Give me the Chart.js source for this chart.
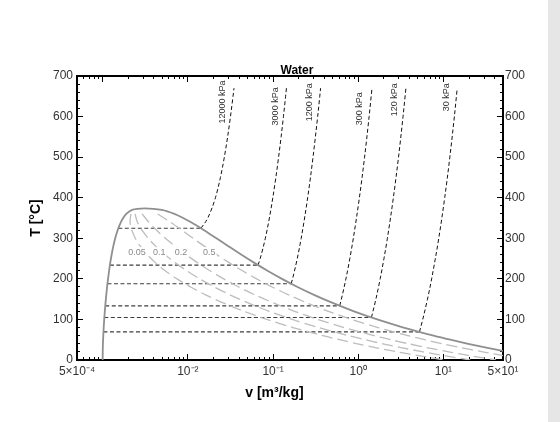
<!DOCTYPE html>
<html>
<head>
<meta charset="utf-8">
<script src="https://cdn.jsdelivr.net/npm/chart.js@4/dist/chart.umd.min.js"></script>
<style>
  html, body { margin: 0; padding: 0; }
  body { width: 560px; height: 422px; background: #e6e6e6; overflow: hidden; }
  .chart-box { width: 548px; height: 422px; background: #fff; }
</style>
</head>
<body>
<div class="chart-box"><canvas id="tv-chart" width="548" height="422"></canvas></div>
<script>
// saturation dome: liquid side going up, then vapour side coming down
const domeV = [0.001000, 0.001002, 0.001008, 0.001017, 0.001029, 0.001043, 0.001060, 0.001080, 0.001102,
  0.001127, 0.001157, 0.001190, 0.001229, 0.001276, 0.001332, 0.001404, 0.001499, 0.001638, 0.001741,
  0.001895, 0.002217, 0.003106,
  0.004953, 0.006950, 0.008806, 0.010797, 0.015488, 0.021659, 0.030150, 0.042175, 0.059707, 0.086094,
  0.12721, 0.19384, 0.30678, 0.50850, 0.89133, 1.6718, 3.4052, 7.6672, 12.026, 19.515, 32.879, 57.762]
const domeT = [0.01, 20, 40, 60, 80, 100, 120, 140, 160,
  180, 200, 220, 240, 260, 280, 300, 320, 340, 350,
  360, 370, 373.95,
  370, 360, 350, 340, 320, 300, 280, 260, 240, 220,
  200, 180, 160, 140, 120, 100, 80, 60, 50, 40, 30, 20]

// constant quality lines inside the dome
const qualityT = [360, 340, 320, 300, 280, 260, 240, 220, 200, 180, 160, 140, 120, 100, 80, 60, 50, 40, 30, 20, 15, 10, 0.01]
const quality005V = [0.002148, 0.002096, 0.002198, 0.002417, 0.002773, 0.003321, 0.004153, 0.005435, 0.007460,
  0.010763, 0.016386, 0.026451, 0.045574, 0.084581, 0.171238, 0.38433, 0.6023, 0.9767, 1.6449, 2.8891, 3.8952, 5.317, 10.301]
const quality01V = [0.002401, 0.002554, 0.002898, 0.003430, 0.004214, 0.005366, 0.007077, 0.009680, 0.013762,
  0.020398, 0.031670, 0.051822, 0.090087, 0.168119, 0.341446, 0.76764, 1.2035, 1.9524, 3.2888, 5.7771, 7.7894, 10.633, 20.601]
const quality02V = [0.002906, 0.003470, 0.004297, 0.005455, 0.007096, 0.009456, 0.012925, 0.018171, 0.026368,
  0.039670, 0.062238, 0.102564, 0.179114, 0.335195, 0.681863, 1.53426, 2.4060, 3.9038, 6.5766, 11.5532, 15.578, 21.265, 41.201]
const quality05V = [0.004423, 0.006218, 0.008494, 0.011532, 0.015741, 0.021726, 0.030468, 0.043642, 0.064184,
  0.097484, 0.153941, 0.25479, 0.44620, 0.83642, 1.70312, 3.8341, 6.0135, 9.7615, 16.440, 28.882, 38.943, 53.16, 103.0]
const qualityLabels = ['0.05', '0.1', '0.2', '0.5']
const qualityLabelV = [0.00253, 0.00462, 0.00831, 0.01785]
const qualityLabelT = 266

// isobars: two-phase part (horizontal) and superheated part
const pressureLabels = ['12000 kPa', '3000 kPa', '1200 kPa', '300 kPa', '120 kPa', '30 kPa']
const saturationT = [324.68, 233.85, 187.96, 133.52, 104.78, 69.09]
const saturationVf = [0.001527, 0.001217, 0.001139, 0.001073, 0.001047, 0.001022]
const saturationVg = [0.014264, 0.066664, 0.16326, 0.60582, 1.4284, 5.2287]

const sh12000T = [324.68, 350, 400, 450, 500, 550, 600, 650, 670]
const sh12000V = [0.014264, 0.01713, 0.02108, 0.02413, 0.02681, 0.02930, 0.03164, 0.03391, 0.0348]
const sh3000T = [233.85, 250, 300, 350, 400, 450, 500, 550, 600, 650, 670]
const sh3000V = [0.066664, 0.070627, 0.08117, 0.090553, 0.099377, 0.10787, 0.11619, 0.12437, 0.13244, 0.14044, 0.1436]
const sh1200T = [187.96, 200, 250, 300, 350, 400, 450, 500, 600, 650, 670]
const sh1200V = [0.16326, 0.16934, 0.19241, 0.21386, 0.23455, 0.25482, 0.27481, 0.29464, 0.33395, 0.35350, 0.3613]
const sh300T = [133.52, 150, 200, 250, 300, 400, 500, 600, 670]
const sh300V = [0.60582, 0.63402, 0.71643, 0.79645, 0.87535, 1.03151, 1.18669, 1.34136, 1.4500]
const sh120T = [104.78, 150, 200, 250, 300, 400, 500, 600, 670]
const sh120V = [1.4284, 1.6111, 1.8086, 2.0034, 2.1976, 2.5835, 2.9695, 3.3549, 3.625]
const sh30T = [69.09, 100, 150, 200, 300, 400, 500, 600, 670]
const sh30V = [5.2287, 5.715, 6.496, 7.268, 8.810, 10.350, 11.890, 13.432, 14.509]

// where the rotated pressure labels end (top of the text)
const pressureLabelV = [0.0257, 0.1062, 0.2666, 1.0425, 2.685, 10.81]
const pressureLabelT = [689, 672, 682, 660, 682, 682]

// axis ticks
const xLabelValues = [0.0005, 0.01, 0.1, 1, 10, 50]
const xLabelTexts = ['5×10⁻⁴', '10⁻²', '10⁻¹', '10⁰', '10¹', '5×10¹']
const xMajorTicks = [0.0005, 0.001, 0.01, 0.1, 1, 10, 50]

const X_MIN = 0.0005
const X_MAX = 50
const FONT = '"Liberation Sans", Arial, Helvetica, sans-serif'

const xMinorTicks = []
for (let d = 1e-4; d < 100; d *= 10) {
  for (let m = 2; m <= 9; m++) {
    const v = m * d
    if (v > X_MIN * 1.001 && v < X_MAX * 0.999) { xMinorTicks.push(v) }
  }
}

const pairs = (vs, ts) => vs.map((v, i) => ({ x: v, y: ts[i] }))

const lineBase = { showLine: true, pointRadius: 0, pointHoverRadius: 0, fill: false }

const qualitySets = [quality005V, quality01V, quality02V, quality05V].map((vs) => ({
  ...lineBase,
  data: pairs(vs, qualityT),
  borderColor: '#bdbdbd',
  borderWidth: 1.3,
  borderDash: [11, 5],
  tension: 0.3
}))

const horizontalSets = saturationT.map((t, i) => ({
  ...lineBase,
  data: [{ x: saturationVf[i], y: t }, { x: saturationVg[i], y: t }],
  borderColor: '#3c3c3c',
  borderWidth: 1.2,
  borderDash: [4, 2.5]
}))

const superheatSets = [
  [sh12000V, sh12000T], [sh3000V, sh3000T], [sh1200V, sh1200T],
  [sh300V, sh300T], [sh120V, sh120T], [sh30V, sh30T]
].map(([vs, ts]) => ({
  ...lineBase,
  data: pairs(vs, ts),
  borderColor: '#111',
  borderWidth: 1,
  borderDash: [4, 2.5],
  cubicInterpolationMode: 'monotone'
}))

const domeSet = {
  ...lineBase,
  data: pairs(domeV, domeT),
  borderColor: '#8f8f8f',
  borderWidth: 1.8,
  cubicInterpolationMode: 'monotone'
}

const annotations = {
  id: 'annotations',
  afterDatasetsDraw (chart) {
    const { ctx, chartArea } = chart
    const x = chart.scales.x
    const y = chart.scales.y
    ctx.save()

    // quality labels sit on their lines, knocked out on white
    ctx.font = '9px ' + FONT
    ctx.textAlign = 'center'
    ctx.textBaseline = 'middle'
    qualityLabels.forEach((text, i) => {
      const px = x.getPixelForValue(qualityLabelV[i])
      const py = y.getPixelForValue(qualityLabelT)
      const w = ctx.measureText(text).width
      ctx.fillStyle = '#fff'
      ctx.fillRect(px - w / 2 - 1, py - 5, w + 2, 10)
      ctx.fillStyle = '#8a8a8a'
      ctx.fillText(text, px, py)
    })

    // pressure labels, rotated, reading upwards
    ctx.fillStyle = '#333'
    ctx.textAlign = 'right'
    pressureLabels.forEach((text, i) => {
      ctx.save()
      ctx.translate(x.getPixelForValue(pressureLabelV[i]), y.getPixelForValue(pressureLabelT[i]))
      ctx.rotate(-Math.PI / 2)
      ctx.fillText(text, 0, 0)
      ctx.restore()
    })

    ctx.font = 'bold 12px ' + FONT
    ctx.fillStyle = '#000'
    ctx.textAlign = 'center'
    ctx.textBaseline = 'alphabetic'
    ctx.fillText('Water', (chartArea.left + chartArea.right) / 2 + 7, chartArea.top - 2)
    ctx.restore()
  }
}

const tickFont = { family: FONT, size: 12 }
const titleFont = { family: FONT, size: 14, weight: 'bold' }

const majorGrid = (len) => ({
  display: true, drawOnChartArea: false, drawTicks: true,
  tickLength: -len, tickColor: '#000', tickWidth: 1
})
const frame = { display: true, color: '#000', width: 2 }

const xLabel = (value) => {
  const idx = xLabelValues.findIndex((v) => Math.abs(v - value) / v < 1e-6)
  return idx >= 0 ? xLabelTexts[idx] : ''
}

Chart.defaults.font.family = FONT

const canvas = document.getElementById('tv-chart')

/* eslint-disable no-new */
new Chart(canvas.getContext('2d'), {
  type: 'scatter',
  data: {
    datasets: [...qualitySets, domeSet, ...horizontalSets, ...superheatSets]
  },
  options: {
    responsive: false,
    animation: false,
    devicePixelRatio: 1,
    layout: { padding: 0 },
    plugins: {
      legend: { display: false },
      tooltip: { enabled: false }
    },
    scales: {
      x: {
        type: 'logarithmic',
        position: 'bottom',
        min: X_MIN,
        max: X_MAX,
        weight: 1,
        afterBuildTicks: (s) => { s.ticks = xMajorTicks.map((v) => ({ value: v })) },
        afterFit: (s) => { s.height = 62 },
        ticks: {
          callback: xLabel, autoSkip: false, maxRotation: 0, padding: 10,
          color: '#333', font: tickFont
        },
        grid: majorGrid(6),
        border: frame,
        title: {
          display: true,
          text: 'v [m³/kg]        ',
          color: '#000',
          font: titleFont,
          padding: { top: 0, bottom: 20 }
        }
      },
      xMinor: {
        axis: 'x',
        type: 'logarithmic',
        position: 'bottom',
        min: X_MIN,
        max: X_MAX,
        weight: 0,
        afterBuildTicks: (s) => { s.ticks = xMinorTicks.map((v) => ({ value: v })) },
        afterFit: (s) => { s.height = 0 },
        ticks: { display: false, autoSkip: false },
        grid: majorGrid(3),
        border: { display: false }
      },
      xTop: {
        axis: 'x',
        type: 'logarithmic',
        position: 'top',
        min: X_MIN,
        max: X_MAX,
        weight: 1,
        afterBuildTicks: (s) => { s.ticks = xMajorTicks.map((v) => ({ value: v })) },
        afterFit: (s) => { s.height = 76 },
        ticks: { display: false, autoSkip: false },
        grid: majorGrid(6),
        border: frame
      },
      xTopMinor: {
        axis: 'x',
        type: 'logarithmic',
        position: 'top',
        min: X_MIN,
        max: X_MAX,
        weight: 0,
        afterBuildTicks: (s) => { s.ticks = xMinorTicks.map((v) => ({ value: v })) },
        afterFit: (s) => { s.height = 0 },
        ticks: { display: false, autoSkip: false },
        grid: majorGrid(3),
        border: { display: false }
      },
      y: {
        type: 'linear',
        position: 'left',
        min: 0,
        max: 700,
        weight: 1,
        afterFit: (s) => { s.width = 77 },
        ticks: { stepSize: 100, padding: 10, color: '#333', font: tickFont, autoSkip: false },
        grid: majorGrid(6),
        border: frame,
        title: {
          display: true,
          text: 'T [°C]',
          color: '#000',
          font: titleFont,
          padding: { top: 28, bottom: 0 }
        }
      },
      yMinor: {
        axis: 'y',
        type: 'linear',
        position: 'left',
        min: 0,
        max: 700,
        weight: 0,
        afterFit: (s) => { s.width = 0 },
        ticks: { stepSize: 20, display: false, autoSkip: false },
        grid: majorGrid(3),
        border: { display: false }
      },
      yRight: {
        axis: 'y',
        type: 'linear',
        position: 'right',
        min: 0,
        max: 700,
        weight: 1,
        afterFit: (s) => { s.width = 45 },
        ticks: { stepSize: 100, padding: 8, color: '#333', font: tickFont, autoSkip: false },
        grid: majorGrid(6),
        border: frame
      },
      yRightMinor: {
        axis: 'y',
        type: 'linear',
        position: 'right',
        min: 0,
        max: 700,
        weight: 0,
        afterFit: (s) => { s.width = 0 },
        ticks: { stepSize: 20, display: false, autoSkip: false },
        grid: majorGrid(3),
        border: { display: false }
      }
    }
  },
  plugins: [annotations]
})
</script>
</body>
</html>
